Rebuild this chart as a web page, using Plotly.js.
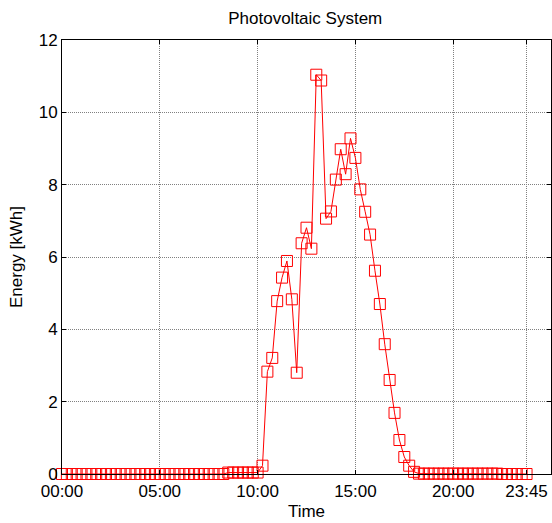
<!DOCTYPE html>
<html>
<head>
<meta charset="utf-8">
<script src="https://cdn.plot.ly/plotly-3.0.1.min.js"></script>
<style>html,body{margin:0;padding:0;background:#fff;}#chart{width:552px;height:523px;}</style>
</head>
<body>
<div id="chart"></div>
<script>
// Time of day (15-minute intervals)
const timeLabels = [
"00:00","00:15","00:30","00:45","01:00","01:15","01:30","01:45",
"02:00","02:15","02:30","02:45","03:00","03:15","03:30","03:45",
"04:00","04:15","04:30","04:45","05:00","05:15","05:30","05:45",
"06:00","06:15","06:30","06:45","07:00","07:15","07:30","07:45",
"08:00","08:15","08:30","08:45","09:00","09:15","09:30","09:45",
"10:00","10:15","10:30","10:45","11:00","11:15","11:30","11:45",
"12:00","12:15","12:30","12:45","13:00","13:15","13:30","13:45",
"14:00","14:15","14:30","14:45","15:00","15:15","15:30","15:45",
"16:00","16:15","16:30","16:45","17:00","17:15","17:30","17:45",
"18:00","18:15","18:30","18:45","19:00","19:15","19:30","19:45",
"20:00","20:15","20:30","20:45","21:00","21:15","21:30","21:45",
"22:00","22:15","22:30","22:45","23:00","23:15","23:30","23:45"];

// Energy [kWh]
const energy = [
0,0,0,0,0,0,0,0,
0,0,0,0,0,0,0,0,
0,0,0,0,0,0,0,0,
0,0,0,0,0,0,0,0,
0,0,0.04,0.04,0.04,0.04,0.04,0.04,
0.04,0.23,2.83,3.21,4.78,5.43,5.89,4.83,
2.80,6.38,6.81,6.23,11.04,10.88,7.06,7.26,
8.14,8.98,8.29,9.28,8.74,7.87,7.25,6.62,
5.62,4.70,3.59,2.60,1.69,0.94,0.47,0.23,
0.06,0.01,0.01,0.01,0.01,0.01,0.01,0.01,
0.01,0.01,0.01,0.01,0.01,0.01,0.01,0.01,
0.01,0.01,0,0,0,0,0,0];

const xTickLabels = ["00:00","05:00","10:00","15:00","20:00","23:45"];

function toHours(s){ const p = s.split(":"); return (+p[0]) + (+p[1])/60; }
const xHours = timeLabels.map(toHours);
const xTickVals = xTickLabels.map(toHours);

const font = {family: "Liberation Sans, Arial, sans-serif", color: "#000"};

const trace = {
  x: xHours, y: energy, type: "scatter", mode: "lines+markers",
  line: {color: "#ff0000", width: 1},
  marker: {symbol: "square-open", size: 11, color: "#ff0000", line: {width: 1, color: "#ff0000"}},
  cliponaxis: false,
  hoverinfo: "x+y"
};

const axisCommon = {
  showline: true, linecolor: "#000", linewidth: 1, mirror: "allticks",
  ticks: "inside", ticklen: 4, tickcolor: "#000", tickwidth: 1,
  showgrid: true, gridcolor: "#808080", griddash: "1px,1px", gridwidth: 1,
  zeroline: false, tickfont: Object.assign({size: 17}, font)
};

const layout = {
  width: 552, height: 523,
  margin: {l: 62, r: 1, t: 40, b: 49},
  paper_bgcolor: "#fff", plot_bgcolor: "#fff",
  showlegend: false,
  title: {text: "Photovoltaic System", font: Object.assign({size: 17}, font),
          x: 0.553, xanchor: "center", y: 0.966, yanchor: "middle", yref: "container"},
  xaxis: Object.assign({}, axisCommon, {
    range: [0, 25], tickvals: xTickVals, ticktext: xTickLabels,
    ticklabelstandoff: 2,
    title: {text: "Time", font: Object.assign({size: 17}, font), standoff: 4}
  }),
  yaxis: Object.assign({}, axisCommon, {
    range: [0, 12], tickvals: [0,2,4,6,8,10,12],
    title: {text: "Energy [kWh]", font: Object.assign({size: 17}, font), standoff: 11}
  })
};

Plotly.newPlot("chart", [trace], layout, {displayModeBar: false, staticPlot: true});
</script>
</body>
</html>
